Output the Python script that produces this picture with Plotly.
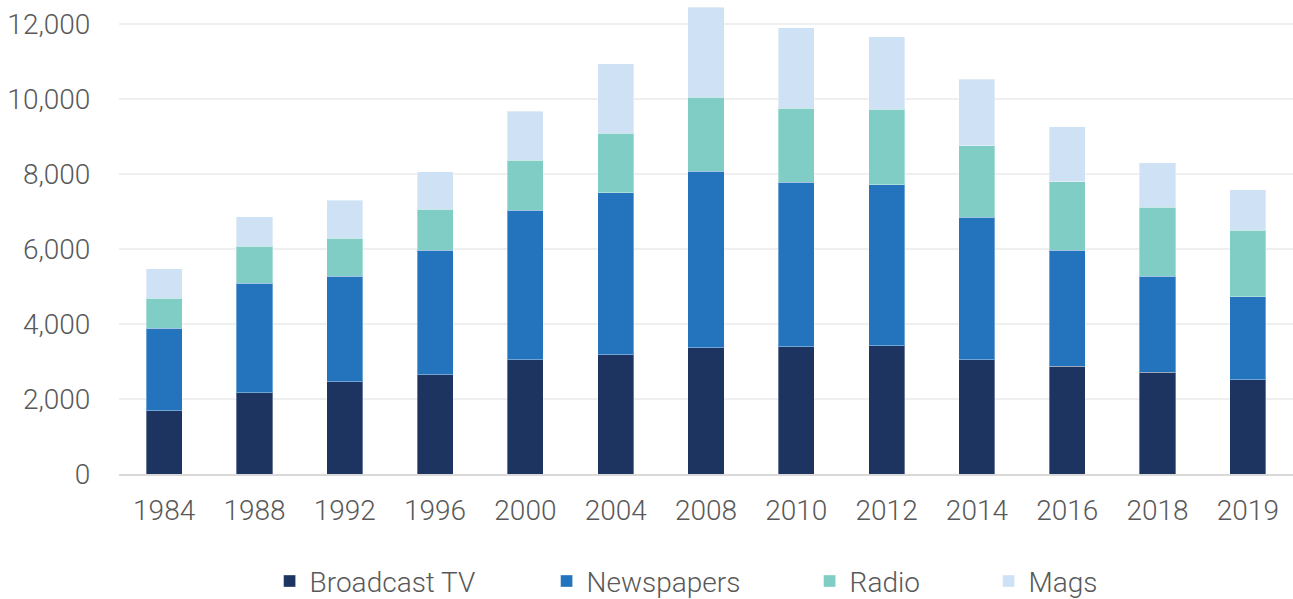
import plotly.graph_objects as go

years = ["1984", "1988", "1992", "1996", "2000", "2004", "2008", "2010", "2012", "2014", "2016", "2018", "2019"]
broadcast_tv = [1690, 2160, 2460, 2640, 3040, 3180, 3370, 3390, 3420, 3045, 2870, 2710, 2510]
newspapers = [2200, 2930, 2810, 3330, 3990, 4320, 4700, 4380, 4290, 3800, 3090, 2560, 2210]
radio = [800, 985, 1020, 1090, 1330, 1580, 1970, 1980, 2010, 1900, 1830, 1840, 1780]
mags = [780, 780, 1000, 1000, 1310, 1860, 2400, 2150, 1940, 1775, 1460, 1190, 1080]

series = [
    ("Broadcast TV", broadcast_tv, "#1d3461", 232),
    ("Newspapers", newspapers, "#2474bd", 218),
    ("Radio", radio, "#7fcdc4", 134),
    ("Mags", mags, "#cfe2f5", 90),
]

FONT = "Roboto"
TXT = "#595959"

fig = go.Figure()
for name, vals, color, lw in series:
    fig.add_trace(go.Bar(
        x=years, y=vals, name=name,
        marker=dict(color=color, line=dict(color="rgba(255,255,255,0.35)", width=1)),
        legendwidth=lw,
    ))

fig.update_layout(
    width=1293, height=599,
    barmode="stack", bargap=0.6,
    plot_bgcolor="white", paper_bgcolor="white",
    margin=dict(l=119, r=0, t=5, b=125, autoexpand=False),
    font=dict(family=FONT, size=28, color=TXT, weight=300),
    showlegend=True,
    legend=dict(
        orientation="h", xref="container", yref="container",
        x=0.2085, xanchor="left", y=0.0295, yanchor="middle",
        font=dict(family=FONT, size=28, color=TXT, weight=300),
        traceorder="normal",
    ),
    xaxis=dict(
        type="category", showgrid=False, automargin=False,
        showline=True, linecolor="#d9d9d9", linewidth=2,
        ticks="outside", ticklen=10, tickcolor="rgba(0,0,0,0)",
        tickfont=dict(family=FONT, size=28, color=TXT, weight=300),
    ),
    yaxis=dict(
        range=[0, 12500], tickvals=[0, 2000, 4000, 6000, 8000, 10000, 12000],
        tickformat=",d", showgrid=True, gridcolor="#efefef", gridwidth=2,
        zeroline=False, showline=False, automargin=False,
        ticks="outside", ticklen=22, tickcolor="rgba(0,0,0,0)",
        tickfont=dict(family=FONT, size=28, color=TXT, weight=300),
    ),
)

fig.write_html(
    "out.html",
    config={"displayModeBar": False},
    post_script="document.body.style.margin='0';document.body.style.overflow='hidden';",
)
